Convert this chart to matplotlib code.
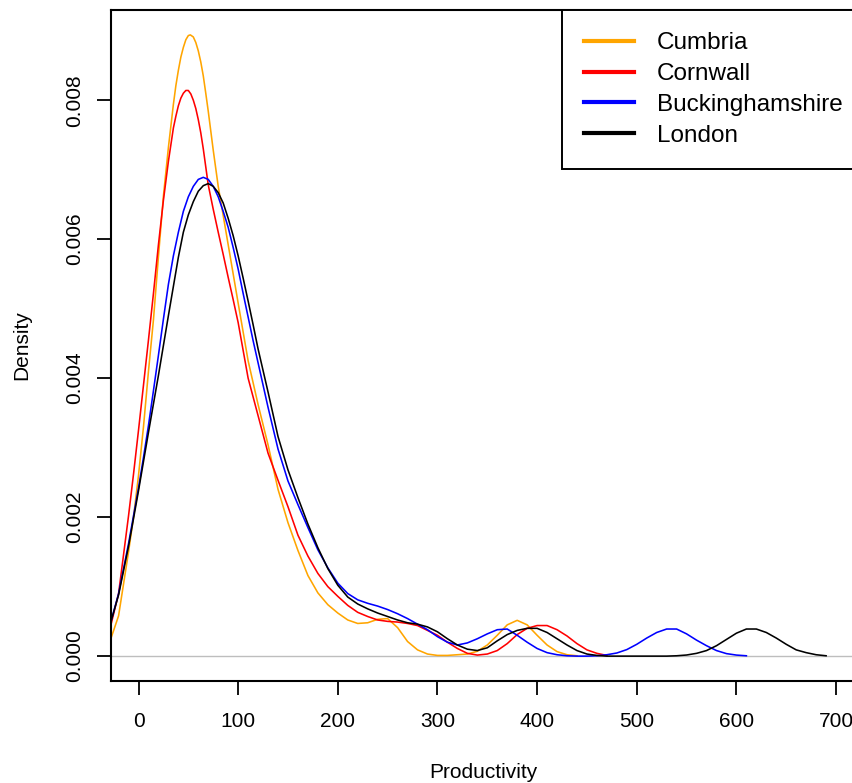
import matplotlib
matplotlib.use("Agg")
import matplotlib.pyplot as plt

plt.rcParams['font.family'] = ['Liberation Sans', 'DejaVu Sans']

# densidades (y en unidades de 1e-3)
cumbria_x = [-28, -20, -10, -5, 0, 5, 10, 15, 20, 25, 30, 35, 37.5, 40, 42.5, 45, 47.5, 50, 52,
             55, 57.5, 60, 62.5, 65, 67.5, 70, 75, 80, 85, 90, 95, 100, 110, 120, 130, 140, 150,
             160, 170, 180, 190, 200, 210, 220, 230, 240, 250, 260, 270, 280, 290, 300, 310, 320,
             330, 340, 350, 360, 370, 380, 390, 400, 410, 420, 430, 440]
cumbria_y = [0.24, 0.58, 1.50, 2.00, 2.60, 3.30, 4.10, 4.84, 5.75, 6.62, 7.32, 7.94, 8.21, 8.43,
             8.62, 8.76, 8.87, 8.93, 8.94, 8.91, 8.83, 8.71, 8.55, 8.35, 8.10, 7.84, 7.28, 6.76,
             6.34, 5.92, 5.50, 5.08, 4.25, 3.62, 3.04, 2.40, 1.92, 1.52, 1.16, 0.91, 0.74, 0.62,
             0.52, 0.47, 0.48, 0.53, 0.54, 0.41, 0.21, 0.09, 0.03, 0.01, 0.01, 0.02, 0.03, 0.07,
             0.16, 0.30, 0.45, 0.515, 0.45, 0.30, 0.16, 0.065, 0.02, 0.005]

cornwall_x = [-28, -20, -10, -5, 0, 5, 10, 15, 20, 25, 30, 35, 37.5, 40, 42.5, 45, 47.5, 50,
              52.5, 55, 57.5, 60, 62.5, 65, 70, 75, 80, 85, 90, 95, 100, 110, 120, 130, 140, 150,
              160, 170, 180, 190, 200, 210, 220, 230, 240, 250, 260, 270, 280, 290, 300, 310,
              320, 330, 340, 350, 360, 370, 380, 390, 400, 410, 420, 430, 440, 450, 460, 470]
cornwall_y = [0.43, 0.90, 2.02, 2.62, 3.25, 3.90, 4.55, 5.22, 5.92, 6.56, 7.12, 7.60, 7.77, 7.92,
              8.03, 8.10, 8.14, 8.14, 8.09, 8.00, 7.88, 7.72, 7.53, 7.30, 6.78, 6.43, 6.10, 5.78,
              5.45, 5.13, 4.80, 4.00, 3.46, 2.92, 2.53, 2.15, 1.74, 1.44, 1.19, 1.00, 0.86, 0.73,
              0.63, 0.57, 0.52, 0.50, 0.49, 0.47, 0.44, 0.37, 0.30, 0.20, 0.11, 0.04, 0.015, 0.03,
              0.08, 0.18, 0.31, 0.40, 0.44, 0.44, 0.38, 0.29, 0.18, 0.09, 0.04, 0.01]

bucks_x = [-28, -20, -10, -5, 0, 5, 10, 15, 20, 25, 30, 35, 40, 45, 50, 55, 60, 65, 70, 75,
           80, 85, 90, 95, 100, 105, 110, 115, 120, 130, 140, 150, 160, 170, 180, 190, 200, 210,
           220, 230, 240, 250, 260, 270, 280, 290, 300, 310, 320, 330, 340, 350, 360, 370, 380,
           390, 400, 410, 420, 430, 440, 450, 460, 470, 480, 490, 500, 510, 520, 530, 540, 550,
           560, 570, 580, 590, 600, 610]
bucks_y = [0.48, 0.90, 1.62, 2.02, 2.42, 2.86, 3.32, 3.82, 4.33, 4.85, 5.35, 5.76, 6.10, 6.40,
           6.61, 6.76, 6.86, 6.89, 6.86, 6.76, 6.61, 6.40, 6.17, 5.88, 5.57, 5.22, 4.88, 4.54,
           4.22, 3.58, 2.98, 2.52, 2.18, 1.85, 1.53, 1.27, 1.05, 0.90, 0.81, 0.76, 0.72, 0.67,
           0.61, 0.54, 0.46, 0.38, 0.28, 0.20, 0.16, 0.19, 0.25, 0.32, 0.38, 0.39, 0.30, 0.20,
           0.11, 0.05, 0.02, 0.005, 0.0, 0.0, 0.005, 0.02, 0.045, 0.094, 0.17, 0.26, 0.34, 0.39,
           0.39, 0.32, 0.23, 0.15, 0.08, 0.036, 0.015, 0.005]

london_x = [-28, -20, -10, -5, 0, 5, 10, 15, 20, 25, 30, 35, 40, 45, 50, 55, 60, 65, 70, 75,
            80, 85, 90, 95, 100, 105, 110, 115, 120, 130, 140, 150, 160, 170, 180, 190, 200, 210,
            220, 230, 240, 250, 260, 270, 280, 290, 300, 310, 320, 330, 340, 350, 360, 370, 380,
            390, 400, 410, 420, 430, 440, 450, 460, 470, 480, 490, 500, 510, 520, 530, 540, 550,
            560, 570, 580, 590, 600, 610, 620, 630, 640, 650, 660, 670, 680, 690]
london_y = [0.48, 0.88, 1.58, 1.98, 2.38, 2.80, 3.22, 3.63, 4.04, 4.47, 4.90, 5.32, 5.74, 6.10,
            6.35, 6.54, 6.69, 6.77, 6.80, 6.76, 6.67, 6.52, 6.30, 6.05, 5.76, 5.44, 5.11, 4.77,
            4.42, 3.80, 3.16, 2.68, 2.28, 1.90, 1.56, 1.26, 1.02, 0.85, 0.75, 0.68, 0.62, 0.57,
            0.52, 0.48, 0.46, 0.42, 0.35, 0.25, 0.16, 0.10, 0.08, 0.12, 0.22, 0.31, 0.37, 0.40,
            0.40, 0.34, 0.25, 0.16, 0.08, 0.03, 0.01, 0.0, 0.0, 0.0, 0.0, 0.0, 0.0, 0.0, 0.005,
            0.016, 0.04, 0.08, 0.15, 0.24, 0.33, 0.39, 0.39, 0.34, 0.26, 0.17, 0.09, 0.05, 0.02,
            0.005]

regiones = ["Cumbria", "Cornwall", "Buckinghamshire", "London"]
colores = ["#FFA500", "#FF0000", "#0000FF", "#000000"]
series = [(cumbria_x, cumbria_y), (cornwall_x, cornwall_y), (bucks_x, bucks_y), (london_x, london_y)]

x_ticks = [0, 100, 200, 300, 400, 500, 600, 700]
y_ticks = [0.000, 0.002, 0.004, 0.006, 0.008]

W, H = 853, 783
fig = plt.figure(figsize=(W / 100, H / 100), dpi=100)
ax = fig.add_axes([111 / W, 1 - 681 / H, (856 - 111) / W, (681 - 10) / H])

ax.axhline(0, color="#BEBEBE", linewidth=1.0, zorder=1)
for (xs, ys), nombre, color in zip(series, regiones, colores):
    ax.plot(xs, [v / 1000 for v in ys], color=color, linewidth=1.15, label=nombre, zorder=2,
            solid_joinstyle="round")

ax.set_xlim(-27.6, 720)
ax.set_ylim(-0.000358, 0.009298)
ax.set_xticks(x_ticks)
ax.set_xticklabels([str(t) for t in x_ticks])
ax.set_yticks(y_ticks)
ax.set_yticklabels(["%.3f" % t for t in y_ticks], rotation=90, va="center")
ax.tick_params(direction="out", length=10, width=1.3, labelsize=15, color="black")
ax.tick_params(axis="x", pad=12)
ax.tick_params(axis="y", pad=9)

for s in ax.spines.values():
    s.set_linewidth(1.5)

ax.set_xlabel("Productivity", fontsize=15, va="center")
ax.xaxis.set_label_coords(0.5, (681 - 772) / 671)
ax.set_ylabel("Density", fontsize=15, va="center")
ax.yaxis.set_label_coords((21.7 - 111) / 745, 0.5)

handles = [plt.Line2D([], [], color=c, linewidth=3) for c in colores]
leg = ax.legend(handles, regiones, loc="upper left", bbox_to_anchor=(561.7 / W, 1 - 10 / H),
                bbox_transform=fig.transFigure, borderaxespad=0, fontsize=17.5,
                handlelength=2.05, handletextpad=0.95, borderpad=0.92, labelspacing=0.36,
                fancybox=False, framealpha=1, edgecolor="black")
leg.get_frame().set_linewidth(1.4)

fig.savefig("out.png", dpi=100)
